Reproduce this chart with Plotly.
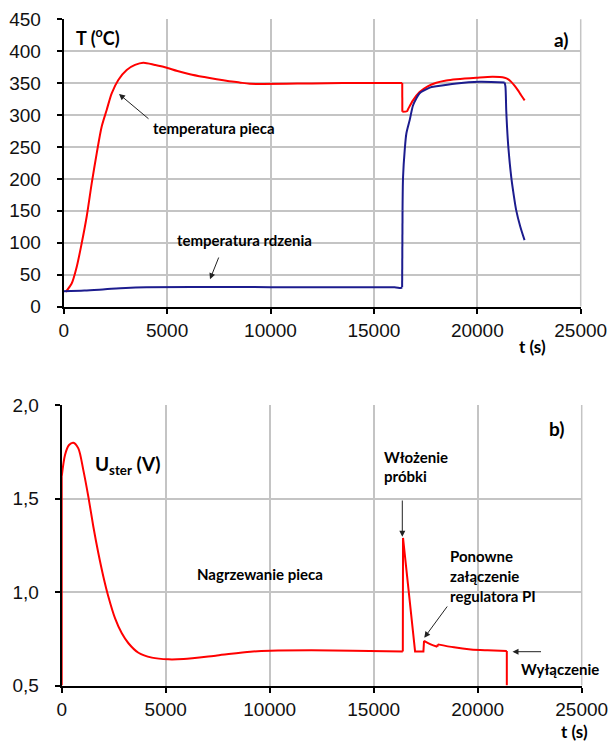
import plotly.graph_objects as go

W, H = 610, 743

# --- Panel a) temperatures ---
t_piec = [100, 385, 628, 870, 1112, 1354, 1596, 1838, 2079, 2321, 2640, 3046, 3448, 3849,
          4415, 4898, 5500, 6100, 6800, 7400, 8000, 8500, 9000, 12000, 13500, 16370, 16375,
          16600, 16650, 16890, 17210, 17600, 18020, 18500, 18990, 19950, 20750, 21320, 21500,
          21640, 21800, 21960, 22120, 22290]
T_piec = [23, 36, 62, 99, 141, 193, 240, 282, 308, 334, 355, 370.7, 378.5, 382,
          378.5, 375, 369, 364, 359.5, 356, 353, 351, 349, 349.5, 350, 350, 305,
          306, 309, 323, 336, 345, 350.5, 354, 356, 358.5, 360, 358.5, 356,
          352, 346, 339, 331, 323]

t_rdz = [0, 1000, 2000, 3000, 4000, 8000, 12000, 16000, 16300, 16365, 16385, 16410, 16490,
         16570, 16730, 16890, 17050, 17210, 17450, 17700, 18020, 18990, 20110, 21320, 21360,
         21400, 21440, 21500, 21640, 21760, 21880, 22080, 22285]
T_rdz = [24, 25, 27, 29, 30, 30.5, 30, 30, 29, 30, 150, 203, 245,
         271, 292, 315, 326, 334, 339, 343, 345, 349.5, 352, 351, 345,
         307, 280, 250, 203, 175, 151, 125, 104]

# --- Panel b) control voltage ---
t_u = [0, 0, 159, 352, 559, 800, 1040, 1281, 1522, 1763, 2004, 2245, 2567, 2890, 3208,
       3690, 4335, 5135, 5860, 7470, 9070, 10030, 12000, 14000, 16400, 16410, 16990, 17390,
       17420, 17740, 18060, 18080, 18860, 19670, 20470, 21400, 21400]
U_ster = [0.5, 1.617, 1.733, 1.786, 1.798, 1.768, 1.652, 1.51, 1.349, 1.207, 1.082, 0.975,
          0.859, 0.779, 0.726, 0.675, 0.649, 0.640, 0.642, 0.661, 0.681, 0.686, 0.688,
          0.686, 0.682, 1.289, 0.682, 0.682, 0.739, 0.72, 0.707, 0.72, 0.704, 0.693, 0.688,
          0.684, 0.5]

x_ticks = [0, 5000, 10000, 15000, 20000, 25000]
x_ticktext = ["0", "5000", "10000", "15000", "20000", "25000"]
T_ticks = [0, 50, 100, 150, 200, 250, 300, 350, 400, 450]
U_ticks = [0.5, 1.0, 1.5, 2.0]
U_ticktext = ["0,5", "1,0", "1,5", "2,0"]

RED = "#ff0000"
BLUE = "#1c1c8e"
GRID = "#c4c4c4"
TICKFONT = dict(family="Liberation Sans, Arial, sans-serif", size=19, color="#111111")
ANNFONT = "Lato, Carlito, sans-serif"

fig = go.Figure()


def piece(xs, ys, i0, i1, color, xa, ya, shape):
    """Draw the samples xs[i0:i1] / ys[i0:i1] as one line piece."""
    fig.add_trace(go.Scatter(x=xs[i0:i1], y=ys[i0:i1], mode="lines",
                             line=dict(color=color, width=2, shape=shape, smoothing=0.8),
                             xaxis=xa, yaxis=ya, showlegend=False, hoverinfo="skip"))


# furnace temperature: smooth parts joined by the sharp drop at sample insertion
piece(t_piec, T_piec, 0, 26, RED, "x", "y", "spline")
piece(t_piec, T_piec, 25, 27, RED, "x", "y", "linear")
piece(t_piec, T_piec, 26, len(t_piec), RED, "x", "y", "spline")

# core temperature
piece(t_rdz, T_rdz, 0, 10, BLUE, "x", "y", "spline")
piece(t_rdz, T_rdz, 9, 11, BLUE, "x", "y", "linear")
piece(t_rdz, T_rdz, 10, 24, BLUE, "x", "y", "spline")
piece(t_rdz, T_rdz, 23, len(t_rdz), BLUE, "x", "y", "spline")

# control voltage
piece(t_u, U_ster, 0, 2, RED, "x2", "y2", "linear")
piece(t_u, U_ster, 1, 25, RED, "x2", "y2", "spline")
piece(t_u, U_ster, 24, 29, RED, "x2", "y2", "linear")
piece(t_u, U_ster, 28, 31, RED, "x2", "y2", "spline")
piece(t_u, U_ster, 30, 32, RED, "x2", "y2", "linear")
piece(t_u, U_ster, 31, 36, RED, "x2", "y2", "spline")
piece(t_u, U_ster, 35, 37, RED, "x2", "y2", "linear")


def px(x):
    return x / W


def py(y):
    return 1 - y / H


common_x = dict(range=[0, 25000], tickvals=x_ticks, ticktext=x_ticktext, showgrid=True,
                gridcolor=GRID, gridwidth=1.5, showline=True, linecolor="black", linewidth=2,
                ticks="outside", ticklen=5, tickcolor="black", tickwidth=1.5, tickfont=TICKFONT,
                zeroline=False, ticklabelstandoff=1, fixedrange=True, automargin=False)
common_y = dict(showgrid=True, gridcolor=GRID, gridwidth=1.5, showline=True, linecolor="black",
                linewidth=2, ticks="outside", ticklen=5, tickcolor="black", tickwidth=1.5,
                tickfont=TICKFONT, zeroline=False, ticklabelstandoff=12, fixedrange=True,
                automargin=False)

fig.update_layout(
    width=W, height=H,
    margin=dict(l=0, r=0, t=0, b=0, pad=0),
    paper_bgcolor="white", plot_bgcolor="white",
    xaxis=dict(domain=[px(63.7), px(580.7)], anchor="y", **common_x),
    yaxis=dict(domain=[py(306.5), py(19.3)], anchor="x", range=[0, 450], tickvals=T_ticks,
               **common_y),
    xaxis2=dict(domain=[px(61.7), px(581.7)], anchor="y2", **common_x),
    yaxis2=dict(domain=[py(685.5), py(405)], anchor="x2", range=[0.5, 2.0], tickvals=U_ticks,
                ticktext=U_ticktext, **common_y),
)

# vertical grid border on the right edge of each panel
for xa, ya in (("x", "y"), ("x2", "y2")):
    fig.add_shape(type="line", xref=f"{xa} domain", yref=f"{ya} domain", x0=1, x1=1, y0=0, y1=1,
                  line=dict(color=GRID, width=1.5))


def label(text, x, y, size=15, xanchor="left", yanchor="middle"):
    fig.add_annotation(text=text, x=px(x), y=py(y), xref="paper", yref="paper",
                       showarrow=False, xanchor=xanchor, yanchor=yanchor,
                       font=dict(family=ANNFONT, size=size, color="black"), align="left")


def arrow(x_head, y_head, x_tail, y_tail):
    fig.add_annotation(text="", x=px(x_head), y=py(y_head), xref="paper", yref="paper",
                       ax=x_tail - x_head, ay=y_tail - y_head, axref="pixel", ayref="pixel",
                       showarrow=True, arrowhead=2, arrowsize=1.2, arrowwidth=1,
                       arrowcolor="#222222")


# Panel a) labels
label("<b>T (<sup>o</sup>C)</b>", 74, 36.7, size=18)
label("<b>a)</b>", 570.7, 39.3, size=19, xanchor="right")
label("<b>temperatura pieca</b>", 151, 128.3)
arrow(119, 94, 150, 120)
label("<b>temperatura rdzenia</b>", 174.5, 240)
arrow(210, 279.3, 219.3, 256)
label("<b>t (s)</b>", 532, 346.7, size=17, xanchor="center")

# Panel b) labels
label("<b>U<sub>ster</sub> (V)</b>", 93.3, 465, size=19)
label("<b>b)</b>", 566, 428.3, size=19, xanchor="right")
label("<b>Nagrzewanie pieca</b>", 194.5, 574)
label("<b>Włożenie</b>", 382, 456.7)
label("<b>próbki</b>", 382, 476)
arrow(402.3, 536.7, 402.3, 499)
label("<b>Ponowne</b>", 448, 555.7)
label("<b>załączenie</b>", 448, 576)
label("<b>regulatora PI</b>", 448, 596)
arrow(424.3, 637.7, 448.3, 605)
label("<b>Wyłączenie</b>", 560, 669.3, xanchor="center")
arrow(512.5, 651.7, 542.5, 651.7)
label("<b>t (s)</b>", 574, 731, size=17, xanchor="center")

fig.write_html("out.html", config={"displayModeBar": False},
               post_script="document.body.style.margin='0';document.body.style.overflow='hidden';")
